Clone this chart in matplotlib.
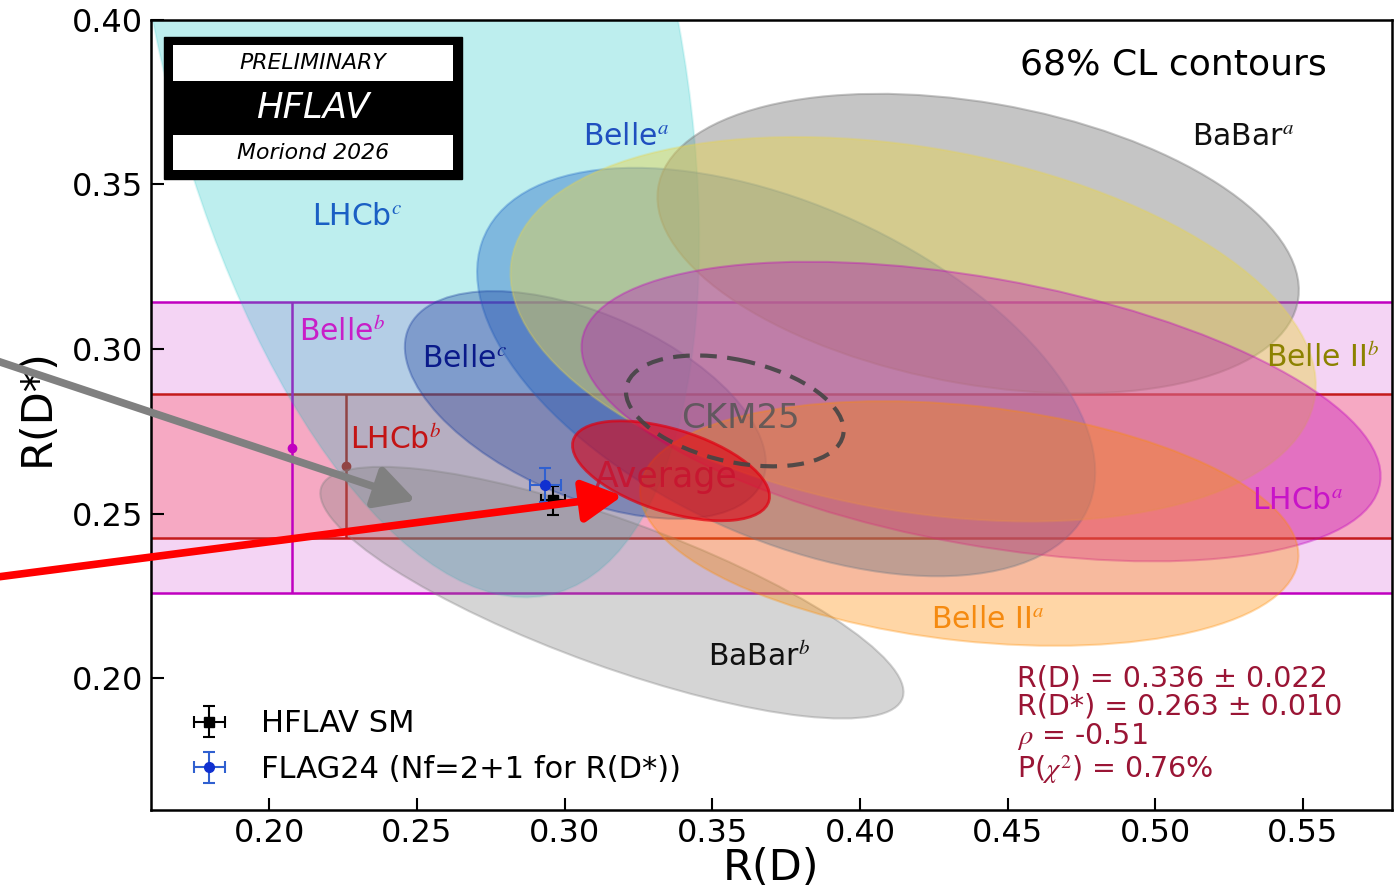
import numpy as np
import matplotlib
matplotlib.use('Agg')
import matplotlib.pyplot as plt
from matplotlib.patches import Ellipse, Rectangle
from matplotlib.colors import to_rgba

plt.rcParams['font.family'] = ['DejaVu Sans']
plt.rcParams['mathtext.fontset'] = 'stix'

# 2D measurements: R(D), R(D*), uncertainties and correlation
meas_names = ['LHCb$^c$', 'BaBar$^b$', 'Belle$^a$', 'Belle$^c$',
              'BaBar$^a$', 'Belle II$^b$', 'LHCb$^a$', 'Belle II$^a$']
meas_rd = [0.249, 0.316, 0.375, 0.307, 0.440, 0.418, 0.441, 0.437]
meas_rd_err = [0.0637, 0.0651, 0.069, 0.0403, 0.0716, 0.0899, 0.0892, 0.0735]
meas_rds = [0.402, 0.226, 0.293, 0.283, 0.332, 0.306, 0.281, 0.247]
meas_rds_err = [0.117, 0.0252, 0.0409, 0.0228, 0.030, 0.0385, 0.030, 0.0245]
meas_rho = [-0.39, -0.79, -0.49, -0.51, -0.31, -0.29, -0.43, -0.26]

# R(D*)-only measurements (bands)
band_names = ['Belle$^b$', 'LHCb$^b$']
band_rds = [0.270, 0.2645]
band_err = [0.0442, 0.0219]

# average and predictions
avg_rd, avg_rd_err = 0.336, 0.022
avg_rds, avg_rds_err = 0.263, 0.010
avg_rho = -0.51
avg_chi2 = '0.76%'
ckm_rd, ckm_rd_err = 0.3576, 0.0243
ckm_rds, ckm_rds_err = 0.2812, 0.0111
ckm_rho = -0.35

sm_rd, sm_rd_err, sm_rds, sm_rds_err = 0.296, 0.004, 0.254, 0.0045
flag_rd, flag_rd_err, flag_rds, flag_rds_err = 0.2935, 0.0054, 0.2586, 0.0052

K2 = 2.30  # delta chi2 for 68% CL in 2D

# styles
meas_colors = ['c', 'gray', '#2a6fc9', '#1c3f9e', 'gray', '#e8d44d', 'm', 'darkorange']
meas_alpha = [0.26, 0.33, 0.42, 0.35, 0.45, 0.45, 0.33, 0.35]
meas_edge = [0.12, 0.35, 0.35, 0.35, 0.45, 0.3, 0.35, 0.3]
label_colors = ['#1a5fc4', '#111111', '#1f4fbf', '#0a1a8a', '#111111',
                '#8c8200', '#c814c8', '#f58a10']
label_pos = [(0.2296, 0.3403, 'center'), (0.3657, 0.2064, 'center'),
             (0.3208, 0.3645, 'center'), (0.2661, 0.2972, 'center'),
             (0.5296, 0.3645, 'center'), (0.5760, 0.2972, 'right'),
             (0.5482, 0.2540, 'center'), (0.4434, 0.2180, 'center')]
band_colors = ['m', 'red']
band_line_colors = ['#c000c0', '#c41a1a']
band_alpha = [0.17, 0.2]
band_marker_x = [0.2076, 0.2259]
band_label_pos = [(0.2100, 0.3050, 'left'), (0.2272, 0.2722, 'left')]
band_label_colors = ['#c81ec8', '#c41414']

# arrows (tail, head) in data coordinates
gray_arrow = [(0.104, 0.2975), (0.2505, 0.2537)]
red_arrow = [(0.104, 0.2303), (0.3205, 0.2555)]


def cov_ellipse(ax, cx, cy, sx, sy, rho, color, alpha, edge_alpha=0.6,
                lw=1.5, ls='-', fill=True, z=2):
    cov = np.array([[sx ** 2, rho * sx * sy], [rho * sx * sy, sy ** 2]])
    vals, vecs = np.linalg.eigh(cov)
    order = vals.argsort()[::-1]
    vals, vecs = vals[order], vecs[:, order]
    angle = np.degrees(np.arctan2(vecs[1, 0], vecs[0, 0]))
    w, h = 2 * np.sqrt(K2 * vals)
    fc = to_rgba(color, alpha) if fill else 'none'
    e = Ellipse((cx, cy), w, h, angle=angle, facecolor=fc,
                edgecolor=to_rgba(color, edge_alpha), lw=lw, ls=ls, zorder=z)
    ax.add_patch(e)
    return e


fig = plt.figure(figsize=(14, 8.96), dpi=100)
ax = fig.add_axes([0.108, 0.096, 0.886, 0.882])
ax.set_xlim(0.16, 0.58)
ax.set_ylim(0.16, 0.40)

# bands
for i in range(len(band_names)):
    lo = band_rds[i] - band_err[i]
    hi = band_rds[i] + band_err[i]
    ax.axhspan(lo, hi, color=band_colors[i], alpha=band_alpha[i], lw=0, zorder=1)
    ax.axhline(lo, color=band_line_colors[i], lw=1.8, zorder=1.5)
    ax.axhline(hi, color=band_line_colors[i], lw=1.8, zorder=1.5)
    ax.errorbar([band_marker_x[i]], [band_rds[i]], yerr=[band_err[i]],
                fmt='o', ms=6, color=band_line_colors[i], lw=1.8, capsize=0, zorder=1.6)
    bx, by, bha = band_label_pos[i]
    ax.text(bx, by, band_names[i], color=band_label_colors[i], fontsize=21.5,
            ha=bha, va='center', zorder=10)

# 2D measurements
for i in range(len(meas_names)):
    cov_ellipse(ax, meas_rd[i], meas_rds[i], meas_rd_err[i], meas_rds_err[i],
                meas_rho[i], meas_colors[i], meas_alpha[i], edge_alpha=meas_edge[i],
                z=2 + i * 0.01)
    lx, ly, ha = label_pos[i]
    ax.text(lx, ly, meas_names[i], color=label_colors[i], fontsize=21.5,
            ha=ha, va='center', zorder=10)

# average and CKM25
cov_ellipse(ax, avg_rd, avg_rds, avg_rd_err, avg_rds_err, avg_rho,
            '#e00010', 0.58, edge_alpha=0.7, lw=2, z=3)
cov_ellipse(ax, ckm_rd, ckm_rds, ckm_rd_err, ckm_rds_err, ckm_rho,
            '#444444', 0, edge_alpha=0.9, lw=3, ls=(0, (4, 2.5)), fill=False, z=3.1)
ax.text(0.3597, 0.2788, 'CKM25', color='#555555', alpha=0.85, fontsize=24.5,
        ha='center', va='center', zorder=10)
ax.text(0.3343, 0.2612, 'Average', color='#c8102e', alpha=0.8, fontsize=25,
        ha='center', va='center', zorder=10)

# SM predictions
ax.errorbar([sm_rd], [sm_rds], xerr=[sm_rd_err], yerr=[sm_rds_err], fmt='s',
            color='black', ms=7, capsize=4, elinewidth=1.5, capthick=1.5,
            label='HFLAV SM', zorder=5)
ax.errorbar([flag_rd], [flag_rds], xerr=[flag_rd_err], yerr=[flag_rds_err], fmt='o',
            color='#1030d0', ecolor='#3060d0', ms=7, capsize=4, elinewidth=1.5,
            capthick=1.5, label='FLAG24 (Nf=2+1 for R(D*))', zorder=5)

ax.legend(loc='lower left', fontsize=22, frameon=False, handlelength=1.0,
          handletextpad=1.2, labelspacing=0.55, borderaxespad=0.6,
          bbox_to_anchor=(0.010, -0.006))

# texts
ax.text(0.506, 0.3864, '68% CL contours', fontsize=26, ha='center', va='center')
res = ('R(D) = %.3f ± %.3f\nR(D*) = %.3f ± %.3f\n$\\rho$ = %.2f\nP($\\chi^2$) = %s'
       % (avg_rd, avg_rd_err, avg_rds, avg_rds_err, avg_rho, avg_chi2))
ax.text(0.4533, 0.2043, res, fontsize=20.5, color='#9a1535', ha='left', va='top',
        linespacing=1.03, zorder=10)

# HFLAV logo box
ax.add_patch(Rectangle((0.0105, 0.799), 0.2401, 0.179, transform=ax.transAxes,
                       facecolor='black', edgecolor='black', zorder=20))
ax.add_patch(Rectangle((0.0175, 0.9219), 0.2259, 0.0465, transform=ax.transAxes,
                       facecolor='white', edgecolor='none', zorder=21))
ax.add_patch(Rectangle((0.0175, 0.8092), 0.2259, 0.0452, transform=ax.transAxes,
                       facecolor='white', edgecolor='none', zorder=21))
ax.text(0.1305, 0.9456, 'PRELIMINARY', transform=ax.transAxes, fontsize=15.8,
        style='italic', ha='center', va='center', zorder=22)
ax.text(0.1305, 0.8885, 'HFLAV', transform=ax.transAxes, fontsize=25.5,
        style='italic', color='white', ha='center', va='center', zorder=22)
ax.text(0.1305, 0.8318, 'Moriond 2026', transform=ax.transAxes, fontsize=15.8,
        style='italic', ha='center', va='center', zorder=22)

# arrows
ax.annotate('', xy=gray_arrow[1], xytext=gray_arrow[0], annotation_clip=False,
            arrowprops=dict(arrowstyle='-|>,head_length=0.6,head_width=0.32',
                            color='#808080', lw=5.5, mutation_scale=40), zorder=30)
ax.annotate('', xy=red_arrow[1], xytext=red_arrow[0], annotation_clip=False,
            arrowprops=dict(arrowstyle='-|>,head_length=0.6,head_width=0.32',
                            color='#ff0000', lw=5.5, mutation_scale=40), zorder=30)

# axes style
ax.set_xticks(np.arange(0.20, 0.551, 0.05))
ax.set_yticks(np.arange(0.20, 0.401, 0.05))
ax.xaxis.set_major_formatter(matplotlib.ticker.FormatStrFormatter('%.2f'))
ax.yaxis.set_major_formatter(matplotlib.ticker.FormatStrFormatter('%.2f'))
ax.tick_params(direction='in', length=9, width=1.5, labelsize=23, pad=6)
for s in ax.spines.values():
    s.set_linewidth(1.8)
ax.set_xlabel('R(D)', fontsize=31, labelpad=-2)
ax.set_ylabel('R(D*)', fontsize=31, labelpad=4)
ax.yaxis.set_label_coords(-0.075, 0.51)

fig.savefig('out.png', dpi=100)
